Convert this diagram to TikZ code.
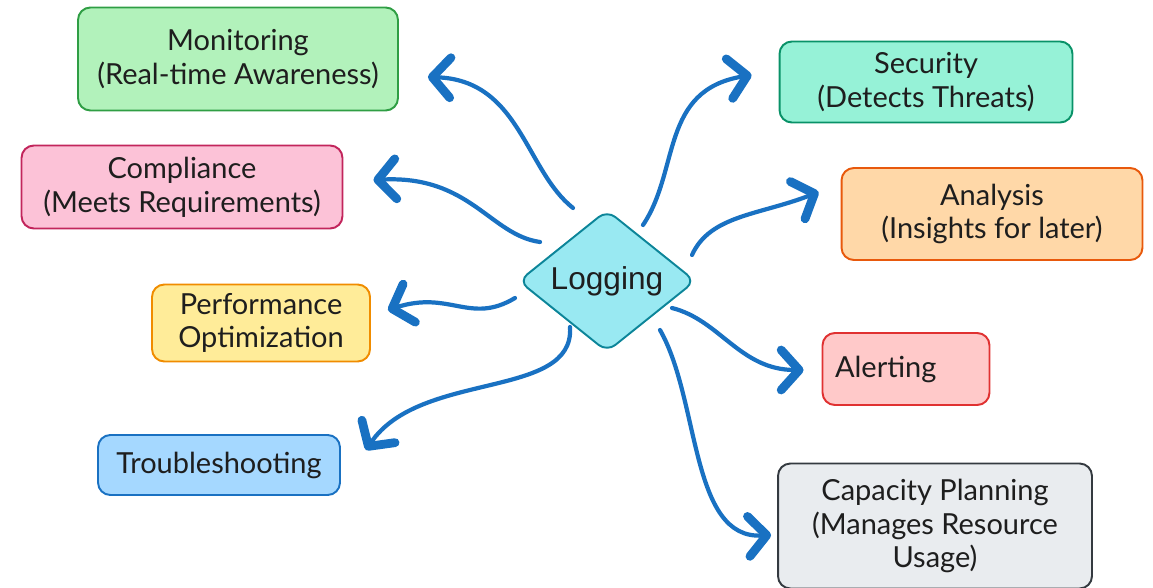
\documentclass[tikz,border=0pt]{standalone}
\usepackage{fontspec}
\setmainfont{Lato}
\newfontfamily\logofont{Liberation Sans}
\usepackage{xcolor}
\usetikzlibrary{arrows.meta, calc, shapes.geometric}

\definecolor{ink}{HTML}{1E1E1E}
\definecolor{arrowblue}{HTML}{1971C2}
\definecolor{cyanfill}{HTML}{99E9F2}
\definecolor{cyanline}{HTML}{0C8599}
\definecolor{greenfill}{HTML}{B2F2BB}
\definecolor{greenline}{HTML}{2F9E44}
\definecolor{pinkfill}{HTML}{FCC2D7}
\definecolor{pinkline}{HTML}{C2255C}
\definecolor{yellowfill}{HTML}{FFEC99}
\definecolor{yellowline}{HTML}{F08C00}
\definecolor{bluefill}{HTML}{A5D8FF}
\definecolor{blueline}{HTML}{1971C2}
\definecolor{tealfill}{HTML}{96F2D7}
\definecolor{tealline}{HTML}{099268}
\definecolor{orangefill}{HTML}{FFD8A8}
\definecolor{orangeline}{HTML}{E8590C}
\definecolor{redfill}{HTML}{FFC9C9}
\definecolor{redline}{HTML}{E03131}
\definecolor{grayfill}{HTML}{E9ECEF}
\definecolor{grayline}{HTML}{343A40}

\begin{document}
\begin{tikzpicture}[
  x=0.02cm, y=-0.02cm,
  box/.style={draw, rounded corners=7pt, line width=1.1pt, align=center, inner sep=0pt, text=ink, font=\fontsize{16.5}{19.2}\selectfont},
  link/.style={draw=arrowblue, line width=2.4pt, line cap=round, -{Straight Barb[length=3.6mm, width=8mm, line width=5pt, round]}}
]
\useasboundingbox (0,0) rectangle (1153,588);

% centre
\node (logging) [diamond, draw=cyanline, fill=cyanfill, line width=1.1pt, rounded corners=6pt, minimum width=3.54cm, minimum height=2.84cm, inner sep=0pt, text=ink, font=\logofont\fontsize{18}{22}\selectfont] at (607,281) {Logging};

% left side
\node (monitor) [box, draw=greenline, fill=greenfill, minimum width=6.4cm, minimum height=2.06cm] at (238,59) {Monitoring\\(Real-time Awareness)};
\node (compliance) [box, draw=pinkline, fill=pinkfill, minimum width=6.42cm, minimum height=1.66cm] at (182,187) {Compliance\\(Meets Requirements)};
\node (perf) [box, draw=yellowline, fill=yellowfill, minimum width=4.36cm, minimum height=1.54cm] at (261,323) {Performance\\Optimization};
\node (trouble) [box, draw=blueline, fill=bluefill, minimum width=4.84cm, minimum height=1.2cm] at (219,465) {Troubleshooting};

% right side
\node (security) [box, draw=tealline, fill=tealfill, minimum width=5.86cm, minimum height=1.62cm] at (926,82) {Security\\(Detects Threats)};
\node (analysis) [box, draw=orangeline, fill=orangefill, minimum width=6.02cm, minimum height=1.84cm] at (992,214) {Analysis\\(Insights for later)};
\node (alerting) [box, draw=redline, fill=redfill, minimum width=3.34cm, minimum height=1.44cm, text width=2.84cm, align=left] at (906,369) {Alerting};
\node (capacity) [box, draw=grayline, fill=grayfill, minimum width=6.28cm, minimum height=2.5cm] at (935,526) {Capacity Planning\\(Manages Resource\\Usage)};

% arrows
\draw[link] ($(logging.center)+(-34,-73)$) .. controls (525,170) and (520,80) .. ($(monitor.east)+(29,18)$);
\draw[link] ($(logging.center)+(-67,-39)$) .. controls (490,235) and (470,175) .. ($(compliance.east)+(30,-7)$);
\draw[link] ($(logging.center)+(-92,17)$) .. controls (470,325) and (450,290) .. ($(perf.east)+(17,-13)$);
\draw[link] ($(logging.center)+(-37,46)$) .. controls (575,400) and (420,370) .. ($(trouble.east)+(25,-15)$);
\draw[link] ($(logging.center)+(36,-56)$) .. controls (680,170) and (660,90) .. ($(security.west)+(-27,-7)$);
\draw[link] ($(logging.center)+(85,-26)$) .. controls (710,215) and (760,215) .. ($(analysis.west)+(-22,-22)$);
\draw[link] ($(logging.center)+(65,27)$) .. controls (720,320) and (740,370) .. ($(alerting.west)+(-18,1)$);
\draw[link] ($(logging.center)+(53,49)$) .. controls (700,400) and (690,540) .. ($(capacity.west)+(-6,9)$);
\end{tikzpicture}
\end{document}
